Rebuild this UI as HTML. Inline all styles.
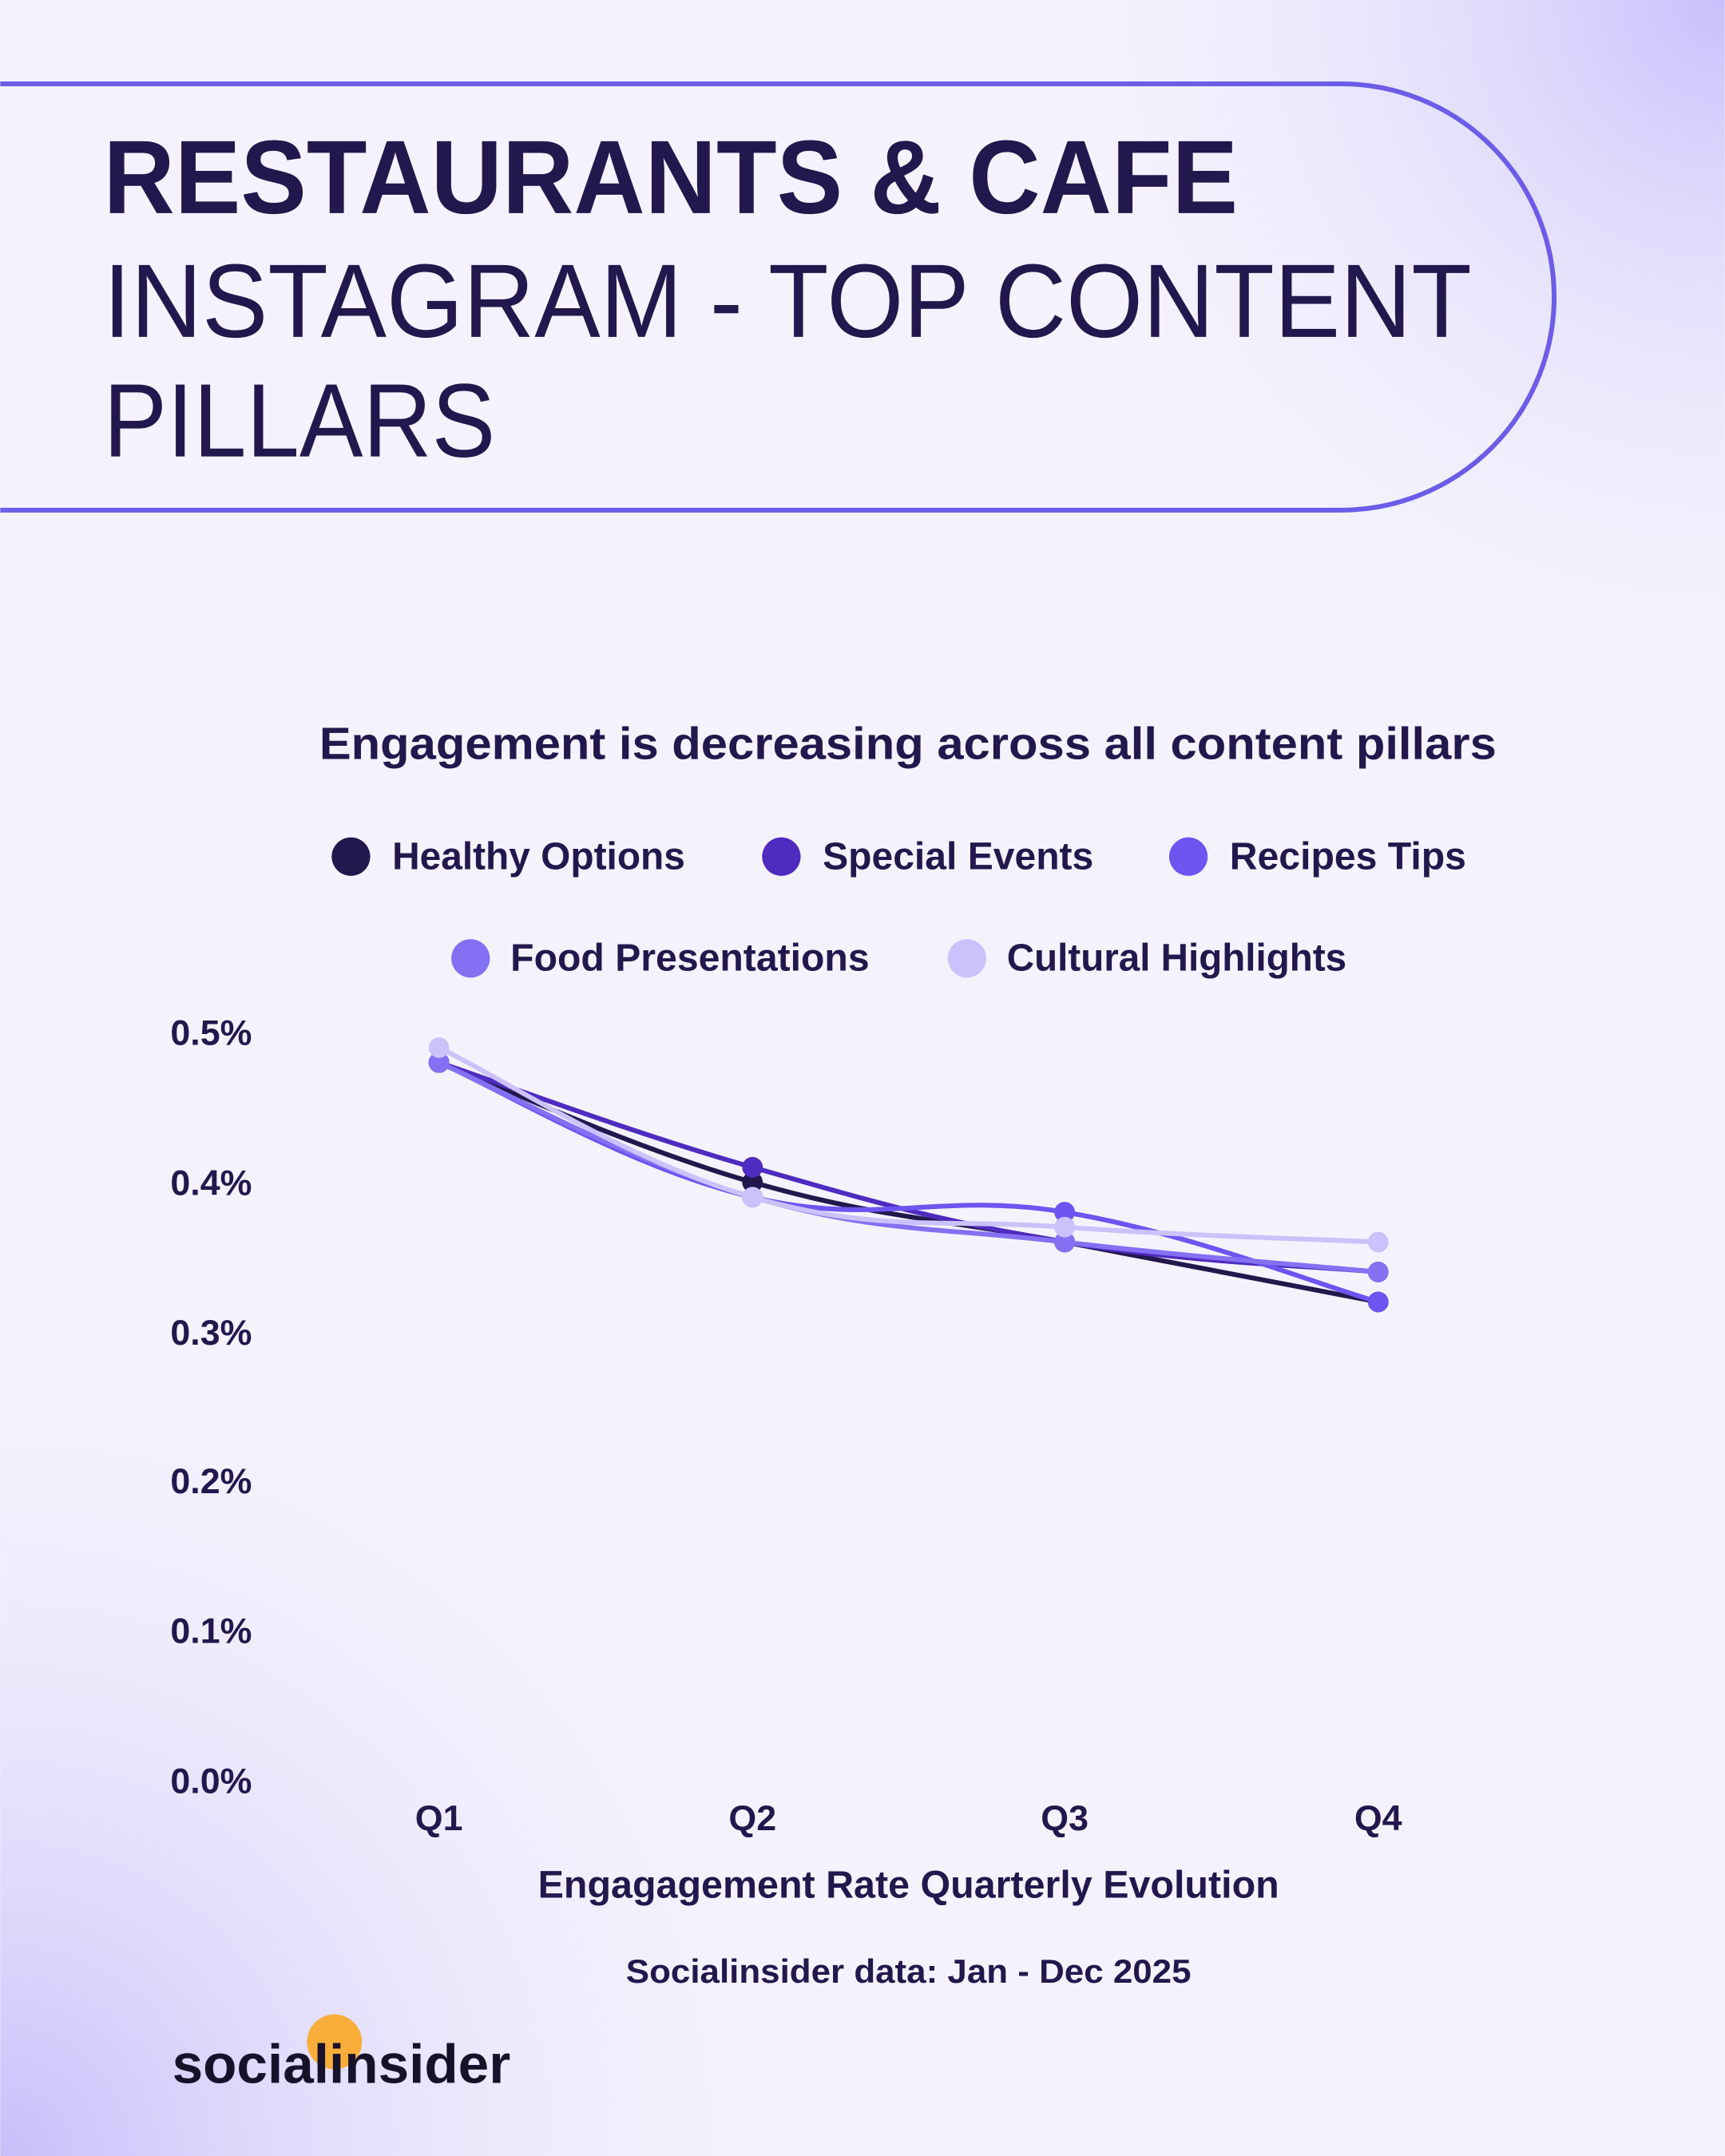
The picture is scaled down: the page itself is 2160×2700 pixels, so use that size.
<!DOCTYPE html>
<html><head><meta charset="utf-8"><style>
html,body{margin:0;padding:0;}
body{width:2160px;height:2700px;overflow:hidden;background:#f4f2fd;}
svg{display:block;}
text{font-family:"Liberation Sans",sans-serif;fill:#22184d;}
</style></head><body>
<svg id="s" width="2160" height="2700" viewBox="0 0 1254 1568" xmlns="http://www.w3.org/2000/svg">
<defs>
<radialGradient id="g1" cx="1254" cy="0" r="520" gradientUnits="userSpaceOnUse">
<stop offset="0" stop-color="#c9bffb"/><stop offset="1" stop-color="#f4f2fd" stop-opacity="0"/></radialGradient>
<radialGradient id="g2" cx="0" cy="1568" r="620" gradientUnits="userSpaceOnUse">
<stop offset="0" stop-color="#c8befa"/><stop offset="1" stop-color="#f4f2fd" stop-opacity="0"/></radialGradient>
</defs>
<rect width="1254" height="1568" fill="#f4f2fd"/>
<rect width="1254" height="1568" fill="url(#g1)"/>
<rect width="1254" height="1568" fill="url(#g2)"/>
<path d="M0 61 H975 A155 155 0 0 1 975 371 H0" fill="none" stroke="#6c5ce7" stroke-width="3.5"/>
<text x="75" y="155" font-size="76" font-weight="bold" textLength="825" lengthAdjust="spacingAndGlyphs">RESTAURANTS &amp; CAFE</text>
<text x="75" y="245" font-size="76" textLength="995" lengthAdjust="spacingAndGlyphs">INSTAGRAM - TOP CONTENT</text>
<text x="75" y="332" font-size="76" textLength="285" lengthAdjust="spacingAndGlyphs">PILLARS</text>
<text x="232" y="552" font-size="33" font-weight="bold" textLength="856" lengthAdjust="spacingAndGlyphs">Engagement is decreasing across all content pillars</text>
<g font-size="28" font-weight="bold">
<circle cx="255" cy="623" r="14" fill="#22184d"/><text x="285" y="632" textLength="213" lengthAdjust="spacingAndGlyphs">Healthy Options</text>
<circle cx="568" cy="623" r="14" fill="#4f2bc0"/><text x="598" y="632" textLength="197" lengthAdjust="spacingAndGlyphs">Special Events</text>
<circle cx="864" cy="623" r="14" fill="#6c55f0"/><text x="894" y="632" textLength="172" lengthAdjust="spacingAndGlyphs">Recipes Tips</text>
<circle cx="342" cy="697" r="14" fill="#8470f2"/><text x="371" y="706" textLength="261" lengthAdjust="spacingAndGlyphs">Food Presentations</text>
<circle cx="703" cy="697" r="14" fill="#cbc2fb"/><text x="732" y="706" textLength="247" lengthAdjust="spacingAndGlyphs">Cultural Highlights</text>
</g>
<g font-size="26" font-weight="bold" text-anchor="end">
<text x="183" y="760">0.5%</text><text x="183" y="869">0.4%</text><text x="183" y="978">0.3%</text>
<text x="183" y="1086">0.2%</text><text x="183" y="1195">0.1%</text><text x="183" y="1304">0.0%</text>
</g>
<g font-size="26" font-weight="bold" text-anchor="middle">
<text x="319" y="1331">Q1</text><text x="547" y="1331">Q2</text><text x="774" y="1331">Q3</text><text x="1002" y="1331">Q4</text>
</g>
<g id="series"></g>
<text x="391" y="1380" font-size="28" font-weight="bold" textLength="539" lengthAdjust="spacingAndGlyphs">Engagagement Rate Quarterly Evolution</text>
<text x="455" y="1442" font-size="24" font-weight="bold" textLength="411" lengthAdjust="spacingAndGlyphs">Socialinsider data: Jan - Dec 2025</text>
<circle cx="243" cy="1485" r="20" fill="#f9ae3b"/>
<text x="125" y="1515" font-size="40" font-weight="bold" fill="#17122a" style="fill:#17122a" textLength="246" lengthAdjust="spacingAndGlyphs">socialinsider</text>
</svg>
<script>
var xs=[319,547,774,1002];function Y(v){return 1295-v*1088;}
var S=[
["#22184d",[.48,.40,.36,.32]],
["#4f2bc0",[.48,.41,.36,.34]],
["#6c55f0",[.48,.39,.38,.32]],
["#8470f2",[.48,.39,.36,.34]],
["#cbc2fb",[.49,.39,.37,.36]]];
var g=document.getElementById('series'),h='';
S.forEach(function(s){var p=s[1].map(function(v,i){return [xs[i],Y(v)];});
var d='M'+p[0][0]+' '+p[0][1];
for(var i=0;i<3;i++){var p0=p[Math.max(i-1,0)],p1=p[i],p2=p[i+1],p3=p[Math.min(i+2,3)];
var t=0.2;d+=' C'+(p1[0]+(p2[0]-p0[0])*t)+' '+(p1[1]+(p2[1]-p0[1])*t)+' '+(p2[0]-(p3[0]-p1[0])*t)+' '+(p2[1]-(p3[1]-p1[1])*t)+' '+p2[0]+' '+p2[1];}
h+='<path d="'+d+'" fill="none" stroke="'+s[0]+'" stroke-width="3.5"/>';
p.forEach(function(q){h+='<circle cx="'+q[0]+'" cy="'+q[1]+'" r="7.5" fill="'+s[0]+'"/>';});});
g.innerHTML=h;
</script>
</body></html>
